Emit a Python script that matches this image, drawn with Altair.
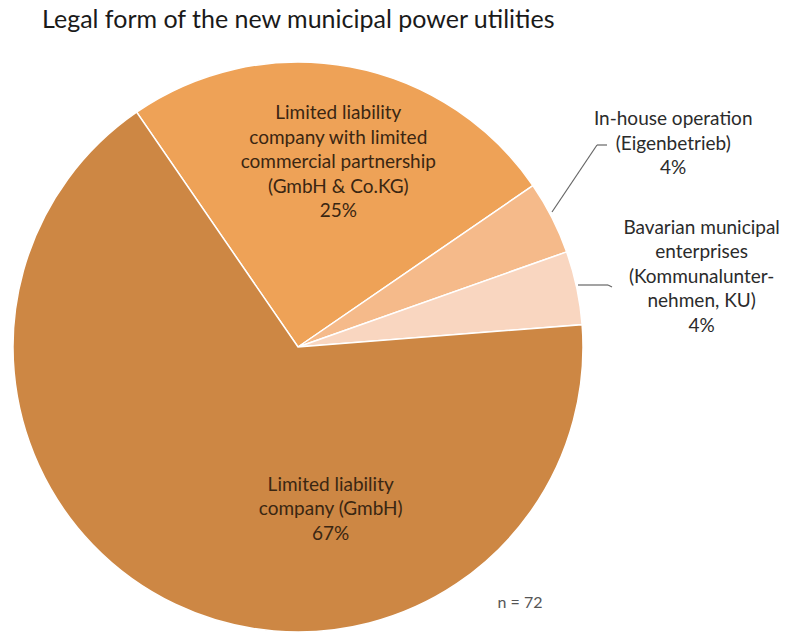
import altair as alt
import pandas as pd

categories = [
    "Limited liability company with limited commercial partnership (GmbH & Co.KG)",
    "In-house operation (Eigenbetrieb)",
    "Bavarian municipal enterprises (Kommunalunternehmen, KU)",
    "Limited liability company (GmbH)",
]
labels = [
    "Limited liability\ncompany with limited\ncommercial partnership\n(GmbH & Co.KG)\n25%",
    "In-house operation\n(Eigenbetrieb)\n4%",
    "Bavarian municipal\nenterprises\n(Kommunalunter-\nnehmen, KU)\n4%",
    "Limited liability\ncompany (GmbH)\n67%",
]
counts = [18, 3, 3, 48]
order = [1, 2, 3, 4]
colors = ["#EEA257", "#F5BA8A", "#F9D6C0", "#CD8744"]

df = pd.DataFrame({"category": categories, "label": labels, "count": counts, "order": order})
total = sum(counts)

start = -0.602
theta_scale = alt.Scale(domain=[0, total], range=[start, start + 6.28318])
TOP = 12
cx, cy = 290, 339 - TOP
FONT = "Lato"
LH = 24.5

pie = alt.Chart(df).mark_arc(outerRadius=285, stroke="white", strokeWidth=1.5).encode(
    theta=alt.Theta("count:Q", stack=True, scale=theta_scale),
    order=alt.Order("order:Q"),
    x=alt.value(cx), y=alt.value(cy),
    color=alt.Color("category:N", scale=alt.Scale(domain=categories, range=colors), legend=None),
)

mids = alt.Chart(df).transform_window(
    cum="sum(count)", sort=[alt.SortField("order")],
).transform_calculate(mid="datum.cum - datum.count / 2")

def label_layer(i, radius, dx, color):
    nlines = labels[i].count("\n") + 1
    return mids.transform_filter(alt.datum.category == categories[i]).mark_text(
        radius=radius, dx=dx, dy=-(nlines - 1) / 2 * LH, font=FONT, fontSize=19,
        lineBreak="\n", lineHeight=LH, align="center", baseline="middle", color=color,
    ).encode(
        theta=alt.Theta("mid:Q", stack=None, scale=theta_scale),
        x=alt.value(cx), y=alt.value(cy), text="label:N",
    )

l1 = label_layer(0, 188, 6, "#3a2612")
l2 = label_layer(1, 448, -24, "#2b2b2b")
l3 = label_layer(2, 337, 74, "#2b2b2b")
l4 = label_layer(3, 179.5, 110, "#3a2612")

lead = pd.DataFrame({"a": [0]})
def seg(x, y, x2, y2):
    return alt.Chart(lead).mark_rule(color="#666666", strokeWidth=1.2).encode(
        x=alt.value(x), y=alt.value(y - TOP), x2=alt.value(x2), y2=alt.value(y2 - TOP))

leaders = [
    seg(544, 204, 589, 137), seg(589, 137, 599, 137),
    seg(570, 277, 600, 277), seg(600, 277, 604, 279),
]

title = alt.Chart(lead).mark_text(
    text="Legal form of the new municipal power utilities", font=FONT, fontSize=25,
    align="left", baseline="alphabetic", color="#1a1a1a",
).encode(x=alt.value(34), y=alt.value(20 - TOP))

note = alt.Chart(lead).mark_text(
    text="n = 72", font=FONT, fontSize=16, align="center", baseline="middle", color="#555555",
).encode(x=alt.value(512), y=alt.value(595 - TOP))

chart = alt.layer(pie, l1, l2, l3, l4, *leaders, title, note).properties(
    width=774, height=626 - TOP, autosize=alt.AutoSizeParams(type="none"),
    padding={"left": 0, "top": TOP, "right": 0, "bottom": 0},
).configure_view(stroke=None)

chart.save("out.html", embed_options={"renderer": "svg", "actions": False})
